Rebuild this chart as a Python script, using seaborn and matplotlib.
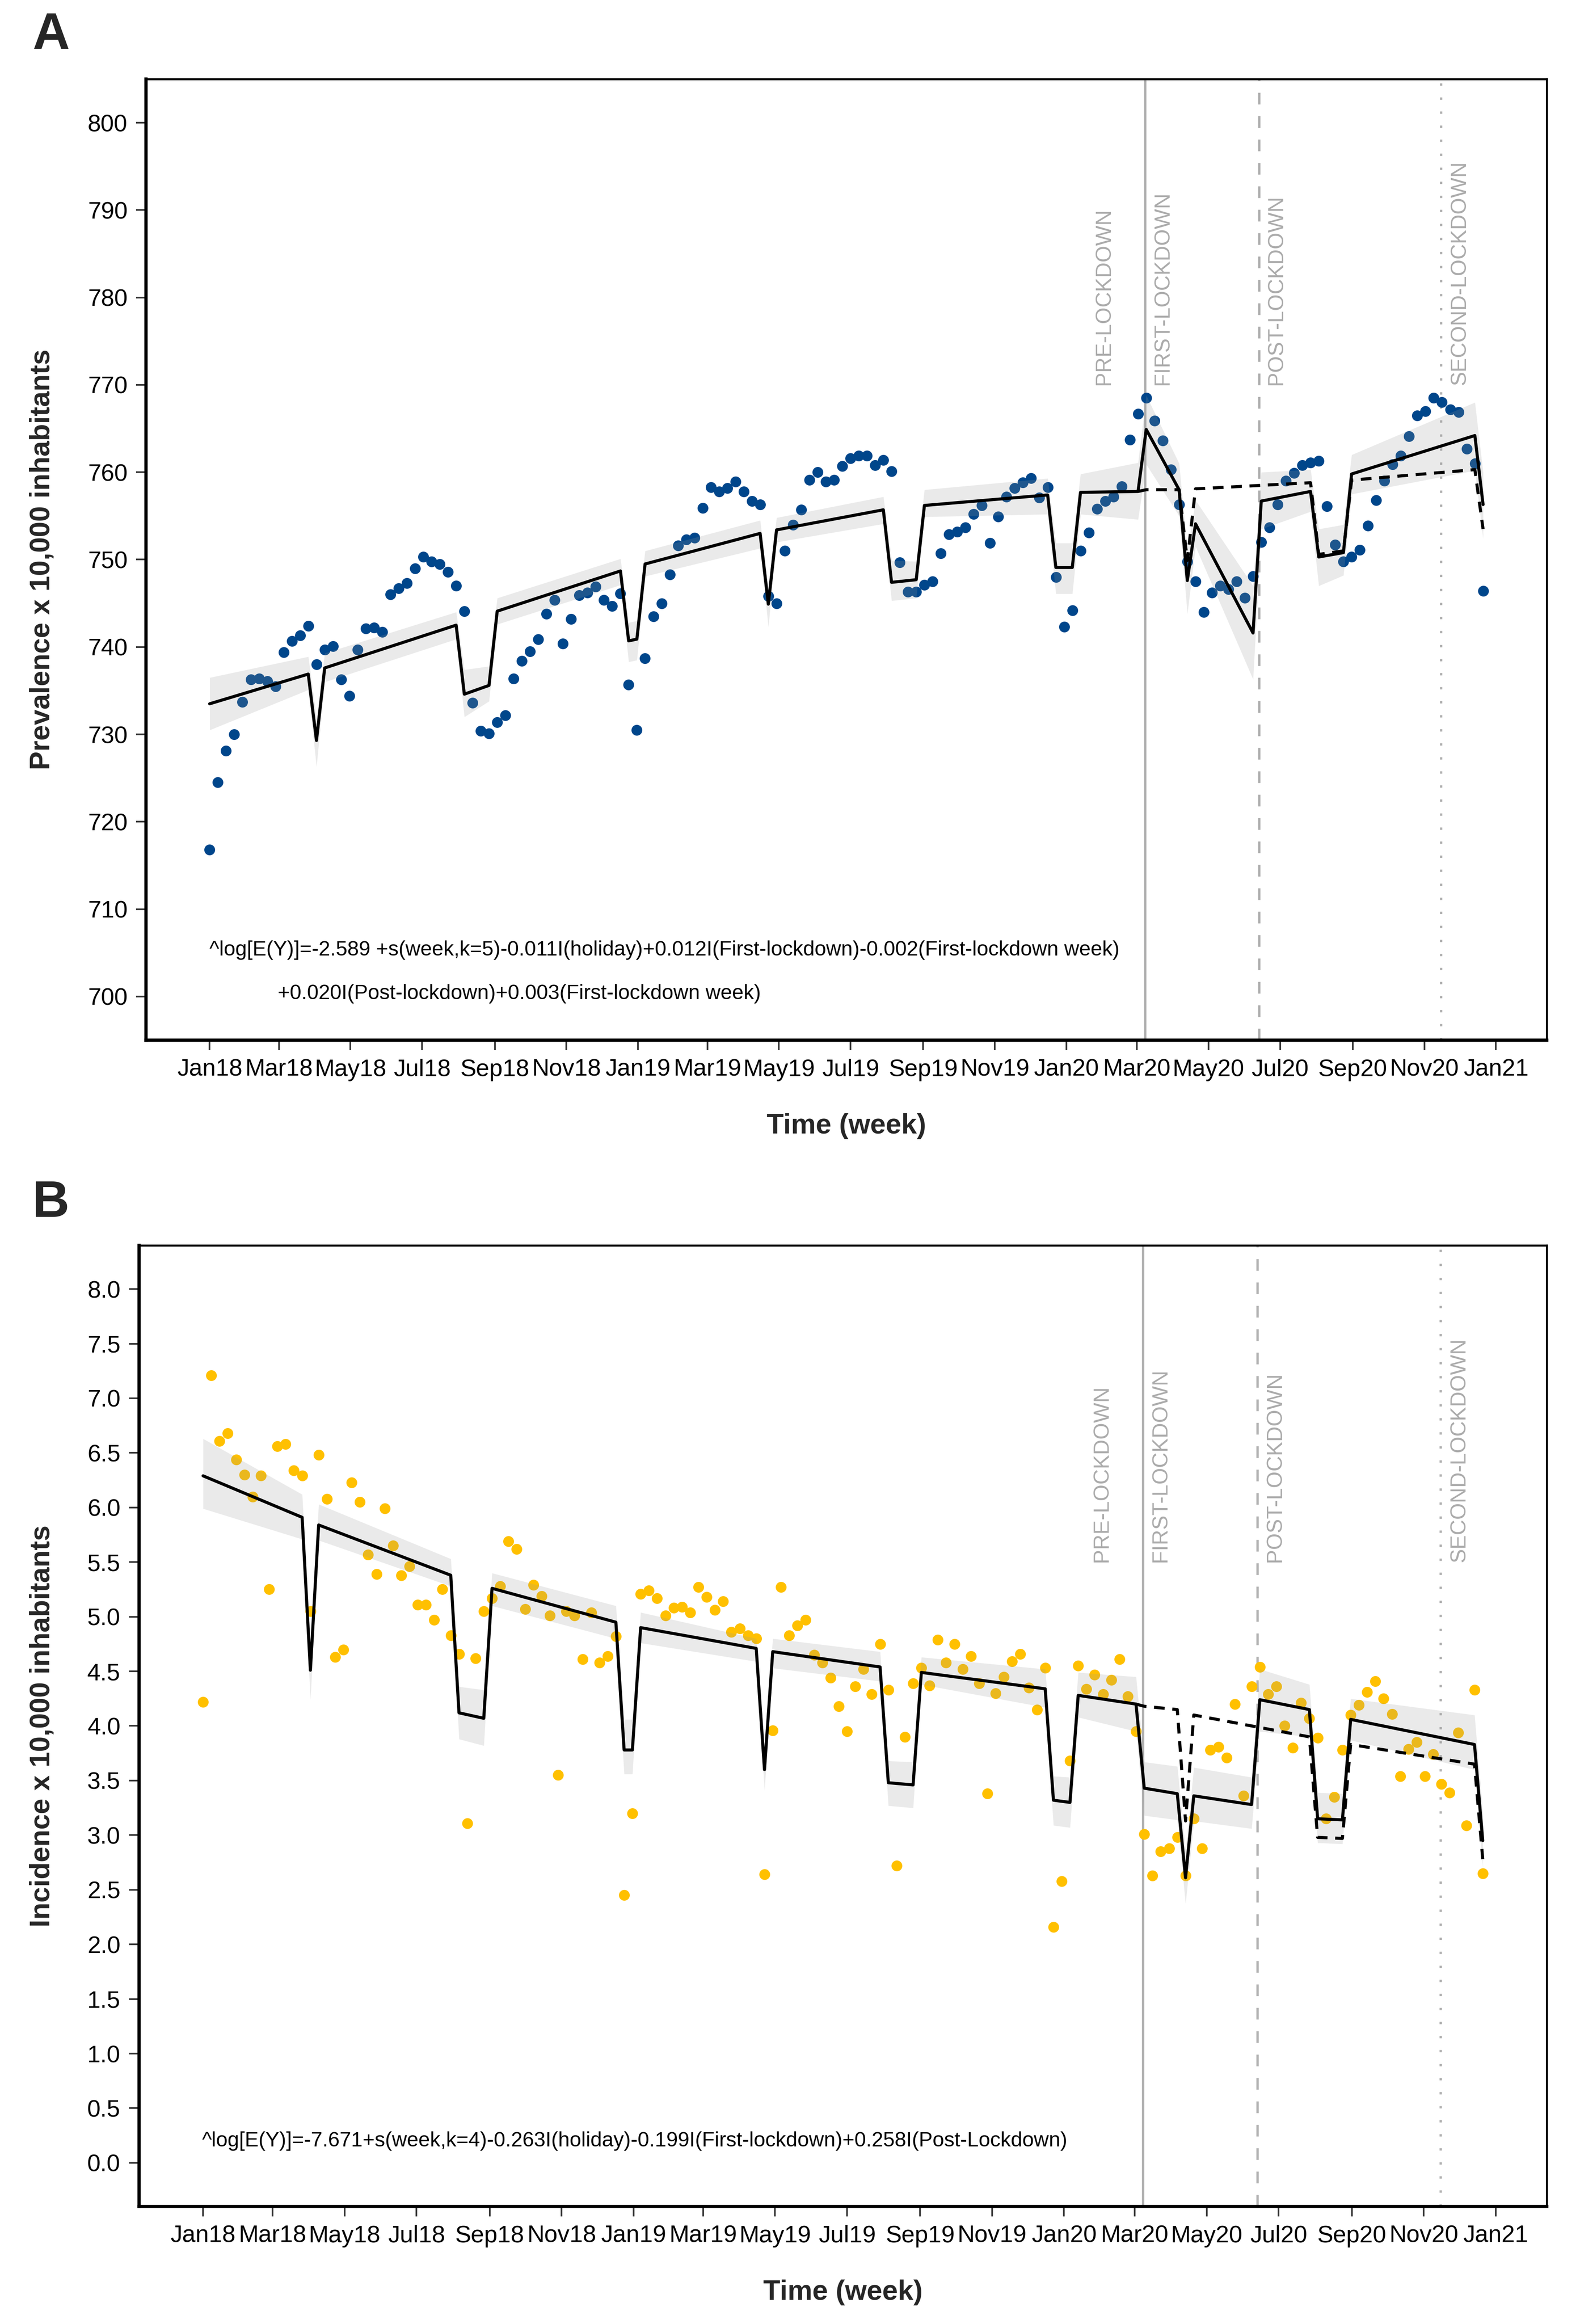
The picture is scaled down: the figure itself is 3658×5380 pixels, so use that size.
import numpy as np
import pandas as pd
import matplotlib
matplotlib.use("Agg")
import matplotlib.pyplot as plt
import matplotlib.dates as mdates
import matplotlib.transforms as mtransforms
import seaborn as sns

sns.set_theme(style="ticks")
plt.rcParams['font.family'] = ['Liberation Sans', 'DejaVu Sans']

# ~~~~~~~~~~~~~ data ~~~~~~~~~~~~~
n_weeks = 156
week_dates = pd.date_range("2018-01-01", periods=n_weeks, freq="7D")

prevalence = [716.8, 724.5, 728.1, 730.0, 733.7, 736.3, 736.4, 736.1, 735.5, 739.4,
              740.7, 741.3, 742.4, 738.0, 739.7, 740.1, 736.3, 734.4, 739.7, 742.1,
              742.2, 741.7, 746.0, 746.7, 747.3, 749.0, 750.3, 749.8, 749.5, 748.6,
              747.0, 744.1, 733.6, 730.4, 730.1, 731.4, 732.2, 736.4, 738.4, 739.5,
              740.9, 743.8, 745.4, 740.4, 743.2, 745.9, 746.2, 746.9, 745.4, 744.7,
              746.1, 735.7, 730.5, 738.7, 743.5, 745.0, 748.3, 751.6, 752.3, 752.5,
              755.9, 758.3, 757.8, 758.2, 758.9, 757.8, 756.7, 756.3, 745.8, 745.0,
              751.0, 754.0, 755.7, 759.1, 760.0, 758.9, 759.1, 760.7, 761.6, 761.9,
              761.9, 760.8, 761.4, 760.1, 749.7, 746.3, 746.3, 747.1, 747.5, 750.7,
              752.9, 753.2, 753.7, 755.2, 756.2, 751.9, 754.9, 757.2, 758.2, 758.8,
              759.3, 757.1, 758.3, 748.0, 742.3, 744.2, 751.0, 753.1, 755.8, 756.7,
              757.2, 758.4, 763.7, 766.7, 768.5, 765.9, 763.6, 760.3, 756.3, 749.8,
              747.5, 744.0, 746.2, 747.0, 746.6, 747.5, 745.6, 748.1, 752.0, 753.7,
              756.3, 759.0, 759.9, 760.8, 761.1, 761.3, 756.1, 751.7, 749.8, 750.3,
              751.1, 753.9, 756.8, 759.0, 760.9, 761.9, 764.1, 766.5, 767.0, 768.5,
              768.0, 767.2, 766.9, 762.7, 761.0, 746.4]

incidence = [4.22, 7.21, 6.61, 6.68, 6.44, 6.30, 6.10, 6.29, 5.25, 6.56,
             6.58, 6.34, 6.29, 5.05, 6.48, 6.08, 4.63, 4.70, 6.23, 6.05,
             5.57, 5.39, 5.99, 5.65, 5.38, 5.46, 5.11, 5.11, 4.97, 5.25,
             4.83, 4.66, 3.11, 4.62, 5.05, 5.17, 5.28, 5.69, 5.62, 5.07,
             5.29, 5.19, 5.01, 3.55, 5.05, 5.01, 4.61, 5.04, 4.58, 4.64,
             4.82, 2.45, 3.20, 5.21, 5.24, 5.17, 5.01, 5.08, 5.09, 5.04,
             5.27, 5.18, 5.06, 5.14, 4.86, 4.89, 4.83, 4.80, 2.64, 3.96,
             5.27, 4.83, 4.92, 4.97, 4.65, 4.58, 4.44, 4.18, 3.95, 4.36,
             4.52, 4.29, 4.75, 4.33, 2.72, 3.90, 4.39, 4.53, 4.37, 4.79,
             4.58, 4.75, 4.52, 4.64, 4.39, 3.38, 4.30, 4.45, 4.59, 4.66,
             4.35, 4.15, 4.53, 2.16, 2.58, 3.68, 4.55, 4.34, 4.47, 4.29,
             4.42, 4.61, 4.27, 3.95, 3.01, 2.63, 2.85, 2.88, 2.98, 2.63,
             3.15, 2.88, 3.78, 3.81, 3.71, 4.20, 3.36, 4.36, 4.54, 4.29,
             4.36, 4.00, 3.80, 4.21, 4.07, 3.89, 3.15, 3.35, 3.78, 4.10,
             4.19, 4.31, 4.41, 4.25, 4.11, 3.54, 3.79, 3.85, 3.54, 3.74,
             3.47, 3.39, 3.94, 3.09, 4.33, 2.65]

# fitted GAM (solid) with its confidence band, read at the corners of the line (week index)
prev_fit_weeks = [0, 12, 13, 14, 30, 31, 34, 35, 50, 51, 52, 53, 67, 68, 69, 82, 83, 86, 87,
                  102, 103, 105, 106, 113, 114, 118, 119, 120, 127, 128, 134, 135, 138, 139, 154, 155]
prev_fit = [733.5, 736.9, 729.3, 737.6, 742.5, 734.6, 735.6, 744.1, 748.7, 740.7, 740.9, 749.5,
            753.0, 744.9, 753.4, 755.7, 747.4, 747.7, 756.2, 757.4, 749.1, 749.1, 757.7, 757.8,
            764.9, 758.0, 747.6, 754.1, 741.6, 756.7, 757.8, 750.3, 750.8, 759.8, 764.2, 756.3]
prev_fit_lo = [730.5, 735.1, 726.3, 736.0, 740.9, 732.0, 733.8, 742.6, 747.1, 738.3, 738.5, 748.1,
               751.3, 742.3, 752.0, 754.1, 745.3, 745.6, 754.9, 755.2, 746.1, 746.1, 755.2, 754.6,
               760.9, 755.0, 743.8, 751.5, 736.3, 753.5, 755.5, 747.0, 748.2, 757.5, 760.2, 752.4]
prev_fit_hi = [736.5, 738.9, 731.8, 739.3, 744.0, 737.4, 737.8, 745.6, 750.1, 742.8, 743.0, 751.0,
               754.5, 746.8, 754.8, 757.2, 749.9, 749.8, 758.0, 759.3, 751.9, 751.9, 759.8, 761.1,
               768.8, 761.0, 751.0, 756.8, 747.0, 760.0, 760.3, 753.5, 754.0, 762.0, 768.0, 760.0]
# counterfactual without lockdown (dashed)
prev_cf_weeks = [113, 114, 118, 119, 120, 134, 135, 138, 139, 154, 155]
prev_cf = [757.8, 758.0, 758.0, 749.9, 758.1, 758.8, 750.6, 751.0, 759.1, 760.3, 753.5]

inc_fit_weeks = prev_fit_weeks
inc_fit = [6.29, 5.91, 4.51, 5.84, 5.38, 4.12, 4.07, 5.26, 4.95, 3.78, 3.78, 4.90,
           4.71, 3.60, 4.68, 4.54, 3.48, 3.46, 4.49, 4.34, 3.32, 3.30, 4.28, 4.20,
           3.43, 3.38, 2.61, 3.36, 3.28, 4.24, 4.15, 3.15, 3.14, 4.06, 3.83, 2.95]
inc_fit_lo = [5.99, 5.71, 4.24, 5.70, 5.28, 3.88, 3.82, 5.10, 4.80, 3.56, 3.56, 4.76,
              4.59, 3.41, 4.53, 4.41, 3.27, 3.25, 4.38, 4.17, 3.09, 3.07, 4.08, 3.95,
              3.18, 3.14, 2.37, 3.13, 3.06, 3.95, 3.90, 2.93, 2.92, 3.87, 3.60, 2.70]
inc_fit_hi = [6.63, 6.12, 4.75, 6.03, 5.53, 4.36, 4.33, 5.40, 5.10, 4.06, 4.06, 5.04,
              4.80, 3.80, 4.80, 4.68, 3.68, 3.67, 4.63, 4.52, 3.54, 3.53, 4.49, 4.45,
              3.67, 3.63, 2.85, 3.62, 3.53, 4.52, 4.38, 3.39, 3.38, 4.25, 4.10, 3.20]
inc_cf_weeks = prev_cf_weeks
inc_cf = [4.20, 4.18, 4.15, 3.13, 4.10, 3.90, 2.98, 2.97, 3.83, 3.65, 2.78]

# periods
period_dates = pd.to_datetime(["2020-03-08", "2020-06-13", "2020-11-15"])
period_styles = ["-", (0, (5, 5)), (0, (1, 5))]
period_names = ["PRE-LOCKDOWN", "FIRST-LOCKDOWN", "POST-LOCKDOWN", "SECOND-LOCKDOWN"]
period_label_dates = pd.to_datetime(["2020-02-02", "2020-03-23", "2020-06-28", "2020-12-01"])

prev_formula = ["^log[E(Y)]=-2.589 +s(week,k=5)-0.011I(holiday)+0.012I(First-lockdown)-0.002(First-lockdown week)",
                "+0.020I(Post-lockdown)+0.003(First-lockdown week)"]
prev_formula_x = pd.to_datetime(["2018-01-01", "2018-02-28"])
prev_formula_y = [705.3, 700.3]
inc_formula = ["^log[E(Y)]=-7.671+s(week,k=4)-0.263I(holiday)-0.199I(First-lockdown)+0.258I(Post-Lockdown)"]
inc_formula_x = pd.to_datetime(["2017-12-31"])
inc_formula_y = [0.2]

W, H = 3658, 5380
fig = plt.figure(figsize=(W / 300, H / 300), dpi=300)
ax_a = fig.add_axes([338 / W, 1 - 2408 / H, 3243 / W, 2225 / H])
ax_b = fig.add_axes([322 / W, 1 - 5108 / H, 3259 / W, 2225 / H])


def draw_panel(ax, values, color, fit, lo, hi, cf, label_y, formula, formula_x, formula_y):
    for d, ls in zip(period_dates, period_styles):
        ax.axvline(d, color='#B0B0B0', lw=1.3, linestyle=ls, zorder=1)
    sns.scatterplot(x=week_dates, y=values, ax=ax, color=color, s=36, linewidth=0, zorder=2)
    fd = week_dates[prev_fit_weeks]
    ax.fill_between(fd, lo, hi, color='#999999', alpha=0.2, linewidth=0, zorder=3)
    sns.lineplot(x=fd, y=fit, ax=ax, color='black', lw=1.7, zorder=4)
    sns.lineplot(x=week_dates[prev_cf_weeks], y=cf, ax=ax, color='black', lw=1.7,
                 linestyle=(0, (3.5, 2.5)), zorder=4)
    for d, name in zip(period_label_dates, period_names):
        ax.text(d, label_y, name, rotation=90, ha='center', va='bottom', color='#ABABAB', fontsize=11.9)
    for x, y, t in zip(formula_x, formula_y, formula):
        ax.text(x, y, t, ha='left', va='center', fontsize=11.5, color='black')

    ax.set_xlim(week_dates[0] - pd.Timedelta(days=54.25), week_dates[-1] + pd.Timedelta(days=54.25))
    ax.xaxis.set_major_locator(mdates.MonthLocator(bymonth=[1, 3, 5, 7, 9, 11]))
    ax.xaxis.set_major_formatter(mdates.DateFormatter('%b%y'))
    ax.tick_params(axis='both', which='major', labelsize=13.3, length=5.5, width=0.9,
                   color='#333333', labelcolor='black', pad=4.8, direction='out')
    for side in ['top', 'right']:
        ax.spines[side].set_linewidth(1.1)
        ax.spines[side].set_color('black')
    for side in ['left', 'bottom']:
        ax.spines[side].set_linewidth(1.8)
        ax.spines[side].set_color('black')
    ax.set_xlabel("Time (week)", fontsize=15.5, fontweight='bold')
    ax.xaxis.set_label_coords(0.5, -0.076)
    ax.grid(False)


draw_panel(ax_a, prevalence, '#00468B', prev_fit, prev_fit_lo, prev_fit_hi, prev_cf, 770,
           prev_formula, prev_formula_x, prev_formula_y)
ax_a.set_ylim(695, 805)
ax_a.set_yticks(np.arange(700, 801, 10))
ax_a.set_ylabel("Prevalence x 10,000 inhabitants", fontsize=15.5, fontweight='bold')

draw_panel(ax_b, incidence, '#FFC000', inc_fit, inc_fit_lo, inc_fit_hi, inc_cf, 5.5,
           inc_formula, inc_formula_x, inc_formula_y)
ax_b.set_ylim(-0.4, 8.4)
ax_b.set_yticks(np.arange(0, 8.01, 0.5))
ax_b.yaxis.set_major_formatter(matplotlib.ticker.FormatStrFormatter('%.1f'))
ax_b.set_ylabel("Incidence x 10,000 inhabitants", fontsize=15.5, fontweight='bold')

for ax in (ax_a, ax_b):
    tr = mtransforms.blended_transform_factory(fig.transFigure, ax.transAxes)
    ax.yaxis.set_label_coords(128 / W, 0.5, transform=tr)

fig.text(75 / W, 1 - 27 / H, "A", fontsize=28.5, fontweight='bold', ha='left', va='top')
fig.text(75 / W, 1 - 2731 / H, "B", fontsize=28.5, fontweight='bold', ha='left', va='top')

fig.savefig("out.png", dpi=300)
